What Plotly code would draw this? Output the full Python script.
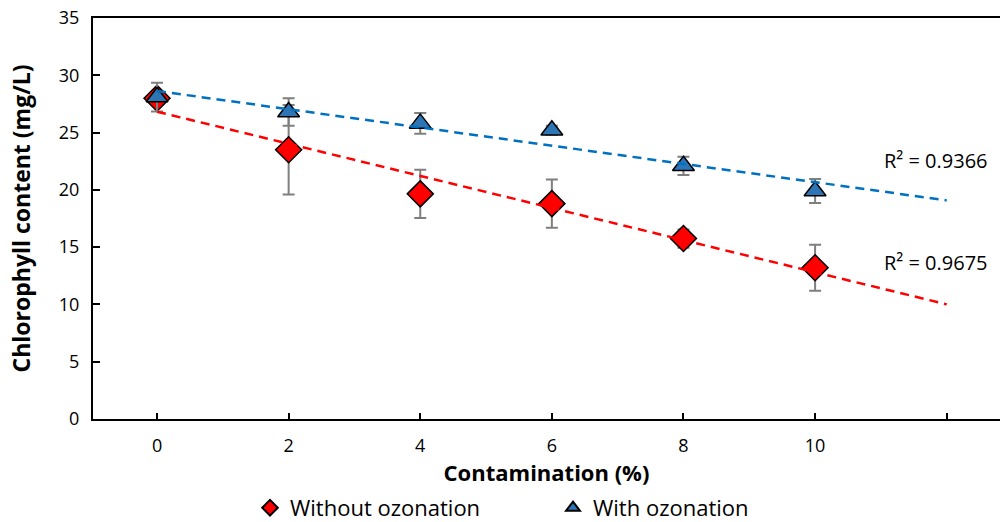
import numpy as np
import plotly.graph_objects as go

contamination = [0, 2, 4, 6, 8, 10]
without_ozone = [28.0, 23.5, 19.65, 18.8, 15.75, 13.2]
without_err = [0.6, 3.9, 2.1, 2.1, 0.8, 2.0]
with_ozone = [28.1, 26.8, 25.8, 25.2, 22.1, 19.9]
with_err = [1.25, 1.2, 0.9, 0.4, 0.8, 1.05]
r2_labels = ["R² = 0.9366", "R² = 0.9675"]
x_ticks = [0, 2, 4, 6, 8, 10, 12]
x_ticktext = ["0", "2", "4", "6", "8", "10", ""]

FONT = "Open Sans"
fig = go.Figure()

fig.add_trace(go.Scatter(
    x=contamination, y=without_ozone, mode="markers", name="Without ozonation",
    marker=dict(symbol="diamond", size=20, color="#FF0000", line=dict(color="black", width=1.5)),
    error_y=dict(type="data", array=without_err, color="#7F7F7F", thickness=2, width=6),
))
fig.add_trace(go.Scatter(
    x=contamination, y=with_ozone, mode="markers", name="With ozonation",
    marker=dict(symbol="triangle-up", size=19, color="#2E75B6", line=dict(color="black", width=1.5)),
    error_y=dict(type="data", array=with_err, color="#7F7F7F", thickness=2, width=6),
))

# linear trendlines (forecast forward to 12)
xt = np.array([0, 12])
for ys, col in [(without_ozone, "#FF0000"), (with_ozone, "#0070C0")]:
    m, b = np.polyfit(contamination, ys, 1)
    fig.add_trace(go.Scatter(x=xt, y=m * xt + b, mode="lines", showlegend=False,
                             line=dict(color=col, width=2.5, dash="9px,6px"), hoverinfo="skip"))

fig.add_annotation(x=11.84, y=22.6, text=r2_labels[0], showarrow=False,
                   font=dict(family=FONT, size=20, color="black"))
fig.add_annotation(x=11.84, y=13.7, text=r2_labels[1], showarrow=False,
                   font=dict(family=FONT, size=20, color="black"))

fig.update_layout(
    width=1000, height=522,
    margin=dict(l=93, r=0, t=18, b=103),
    paper_bgcolor="white", plot_bgcolor="white",
    font=dict(family=FONT, size=18, color="black"),
    legend=dict(orientation="h", xref="container", yref="container",
                x=0.25, xanchor="left", y=0.027, yanchor="middle",
                font=dict(family=FONT, size=22), itemsizing="constant", entrywidth=258,
                tracegroupgap=0),
    xaxis=dict(range=[-0.973, 12.81], tickvals=x_ticks, ticktext=x_ticktext,
               ticks="inside", ticklen=6, tickwidth=1.5, tickcolor="black",
               showline=True, linecolor="black", linewidth=2, mirror=True,
               showgrid=False, zeroline=False, ticklabelstandoff=9, automargin=False,
               title=dict(text="<b>Contamination (%)</b>", font=dict(family=FONT, size=22), standoff=3)),
    yaxis=dict(range=[0, 35], tickvals=[0, 5, 10, 15, 20, 25, 30, 35],
               ticks="inside", ticklen=7, tickwidth=1.5, tickcolor="black",
               showline=True, linecolor="black", linewidth=2, automargin=False,
               showgrid=False, zeroline=False, ticklabelstandoff=8,
               title=dict(text="<b>Chlorophyll content (mg/L)</b>", font=dict(family=FONT, size=23), standoff=22)),
)

fig.write_html("out.html")
